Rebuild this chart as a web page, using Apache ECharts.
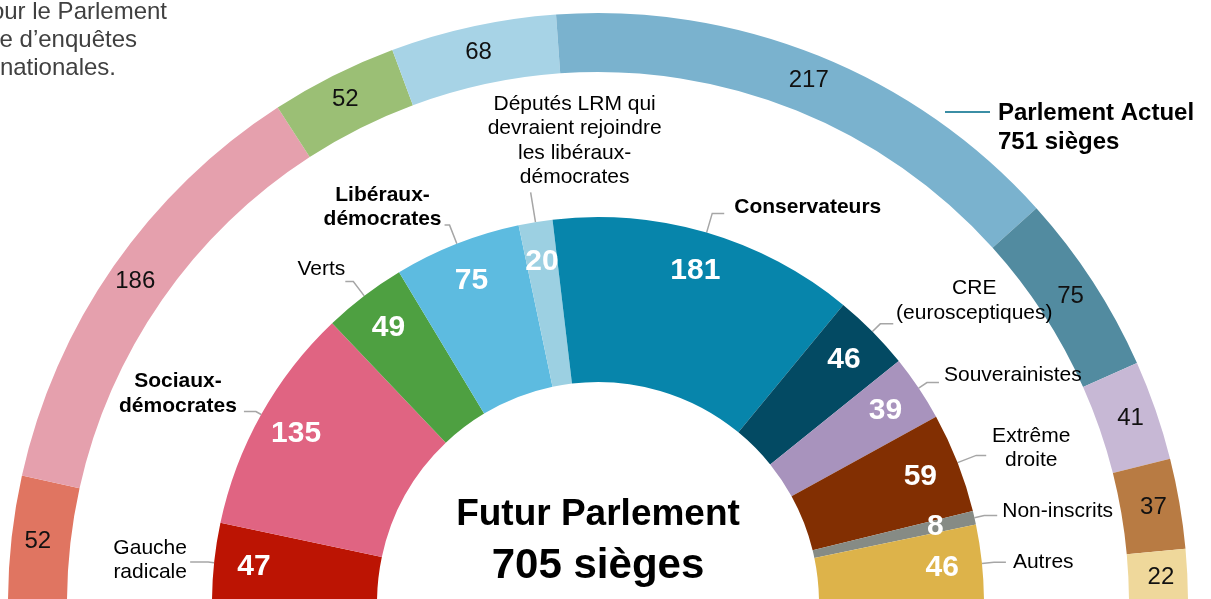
<!DOCTYPE html>
<html><head><meta charset="utf-8">
<script src="https://cdn.jsdelivr.net/npm/echarts@6/dist/echarts.min.js"></script>
<style>html,body{margin:0;padding:0;background:#fff}#c{width:1211px;height:599px}</style>
</head><body><div id="c"></div>
<script>
// ---- data ----
const futurNames = ['Gauche\nradicale','Sociaux-\ndémocrates','Verts','Libéraux-\ndémocrates',
  'Députés LRM qui\ndevraient rejoindre\nles libéraux-\ndémocrates','Conservateurs',
  'CRE\n(eurosceptiques)','Souverainistes','Extrême\ndroite','Non-inscrits','Autres'];
const futurSeats = [47,135,49,75,20,181,46,39,59,8,46];
const futurTotal = 705;
const actuelGroups = ['GUE/NGL','S&D','Verts/ALE','ALDE','PPE','ECR','EFDD','ENL','NI'];
const actuelSeats = [52,186,52,68,217,75,41,37,22];
const actuelTotal = 751;
const boldNames = ['Sociaux-\ndémocrates','Libéraux-\ndémocrates','Conservateurs'];

// ---- styles ----
const futurColors = ['#BC1403','#E06482','#4EA041','#5DBBE0','#9CD0E2','#0785AB','#034A63','#A893BD','#822F02','#868B85','#DDB34A'];
const actuelColors = ['#E07561','#E5A0AD','#9BBF75','#A7D3E6','#7AB2CE','#528BA0','#C7B8D5','#B87B43','#EFD89B'];
// labelLine [length, length2] and label adjustment [dx, dy, align]
const nameLines = [[6,18],[6,12],[18,8],[20,5],[30,0],[20,12],[11,13],[10,12],[20,10],[10,13],[12,12]];
const nameAdjust = [[-35,-2,'center'],[-61,-18,'center'],[5,-12,null],[-57,-18,'center'],[49,-52,'center'],
  [5,-6,null],[76,-23,'center'],[0,-7,null],[40,-7,'center'],[0,-4,null],[2,0,null]];

const FONT = '"Liberation Sans", Arial, sans-serif';
const CENTER = [598, 603];

const chart = echarts.init(document.getElementById('c'), null, {renderer: 'canvas'});
chart.setOption({
  animation: false,
  textStyle: {fontFamily: FONT},
  graphic: [
    {type: 'text', x: 167, y: 12, silent: true,
      style: {text: 'pour le Parlement', font: '24px ' + FONT, fill: '#404040', align: 'right', verticalAlign: 'middle'}},
    {type: 'text', x: 137, y: 40, silent: true,
      style: {text: 'de d’enquêtes', font: '24px ' + FONT, fill: '#404040', align: 'right', verticalAlign: 'middle'}},
    {type: 'text', x: 116, y: 68, silent: true,
      style: {text: 'nationales.', font: '24px ' + FONT, fill: '#404040', align: 'right', verticalAlign: 'middle'}},
    {type: 'text', x: 598, y: 515, silent: true,
      style: {text: 'Futur Parlement', font: 'bold 37px ' + FONT, fill: '#000', align: 'center', verticalAlign: 'middle'}},
    {type: 'text', x: 598, y: 566, silent: true,
      style: {text: futurTotal + ' sièges', font: 'bold 42px ' + FONT, fill: '#000', align: 'center', verticalAlign: 'middle'}},
    {type: 'line', silent: true, shape: {x1: 945, y1: 112, x2: 990, y2: 112},
      style: {stroke: '#3B8EA5', lineWidth: 2}},
    {type: 'text', x: 998, y: 128, silent: true,
      style: {text: 'Parlement Actuel\n' + actuelTotal + ' sièges', font: 'bold 24px ' + FONT, fill: '#000',
        align: 'left', verticalAlign: 'middle', lineHeight: 29}}
  ],
  series: [
    {
      type: 'pie', silent: true, center: CENTER, radius: [531, 590],
      startAngle: 180, endAngle: 0, clockwise: true, avoidLabelOverlap: false,
      itemStyle: {borderWidth: 0},
      label: {show: true, position: 'inside', formatter: '{c}', color: '#111', fontSize: 24, fontFamily: FONT},
      labelLine: {show: false},
      data: actuelSeats.map((v, i) => ({name: actuelGroups[i], value: v, itemStyle: {color: actuelColors[i]}}))
    },
    {
      type: 'pie', silent: true, center: CENTER, radius: [221, 386],
      startAngle: 180, endAngle: 0, clockwise: true, avoidLabelOverlap: false,
      itemStyle: {borderWidth: 0},
      label: {show: false}, labelLine: {show: false},
      data: futurSeats.map((v, i) => ({name: futurNames[i], value: v, itemStyle: {color: futurColors[i]}}))
    },
    {
      type: 'pie', silent: true, center: CENTER, radius: [300, 386],
      startAngle: 180, endAngle: 0, clockwise: true, avoidLabelOverlap: false,
      itemStyle: {color: 'rgba(0,0,0,0)', borderWidth: 0},
      label: {show: true, position: 'inside', formatter: '{c}', color: '#fff', fontSize: 30, fontWeight: 'bold', fontFamily: FONT},
      labelLine: {show: false},
      data: futurSeats.map((v, i) => ({name: futurNames[i], value: v}))
    },
    {
      type: 'pie', silent: true, center: CENTER, radius: [221, 386],
      startAngle: 180, endAngle: 0, clockwise: true, avoidLabelOverlap: false,
      itemStyle: {color: 'rgba(0,0,0,0)', borderWidth: 0},
      label: {show: true, position: 'outside', formatter: '{b}', color: '#000', fontSize: 21, lineHeight: 24.5,
        fontFamily: FONT, distanceToLabelLine: 5},
      labelLine: {show: true, smooth: false, minTurnAngle: 0, maxSurfaceAngle: 180,
        lineStyle: {color: '#A6A6A6', width: 1.5}},
      labelLayout: function (p) {
        const adj = nameAdjust[p.dataIndex];
        const r = p.labelRect;
        const ax = p.align === 'right' ? r.x + r.width : (p.align === 'center' ? r.x + r.width / 2 : r.x);
        const ay = r.y + r.height / 2;
        const out = {x: ax + adj[0], y: ay + adj[1], align: adj[2] || p.align, verticalAlign: 'middle'};
        if (p.labelLinePoints) out.labelLinePoints = p.labelLinePoints;
        return out;
      },
      data: futurSeats.map((v, i) => ({
        name: futurNames[i], value: v,
        label: {fontWeight: boldNames.indexOf(futurNames[i]) >= 0 ? 'bold' : 'normal'},
        labelLine: {length: nameLines[i][0], length2: nameLines[i][1]}
      }))
    }
  ]
});
</script></body></html>
